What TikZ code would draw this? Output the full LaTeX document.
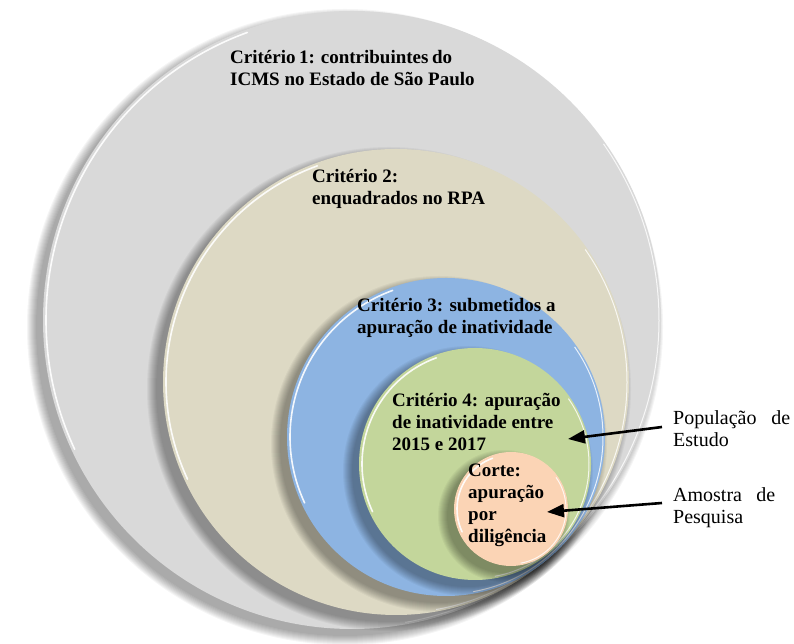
\documentclass[tikz,border=0pt]{standalone}
\usepackage{fontspec}
\setmainfont{Liberation Serif}
\usetikzlibrary{arrows.meta,calc}

\definecolor{cinza}{HTML}{D9D9D9}
\definecolor{bege}{HTML}{DDD9C4}
\definecolor{azul}{HTML}{8DB4E2}
\definecolor{verde}{HTML}{C3D69B}
\definecolor{salmao}{HTML}{FBD4B5}

\begin{document}
\begin{tikzpicture}[x=1pt,y=1pt,
    disco/.style={circle,inner sep=0pt,outer sep=0pt},
    criterio/.style={anchor=base west,inner sep=0pt,font=\bfseries\fontsize{19}{22}\selectfont},
    legenda/.style={anchor=base west,inner sep=0pt,font=\fontsize{20}{22}\selectfont},
    seta/.style={line width=2.6pt,-{Triangle[length=17pt,width=13pt]}}]
        \useasboundingbox (0,0) rectangle (794,644);
        % circulos concentricos, do maior para o menor
        \foreach \nome/\cx/\cy/\r/\cor in {c1/352/324/309/cinza,c2/396/262/233/bege,
            c3/446/207/159/azul,c4/475/180/116/verde,c5/511/135/57/salmao}{
            \foreach \s in {0,...,9}
                \fill[black,opacity=0.04] (\cx-7,\cy-7) circle ({\r+\s});
            \node[disco,fill=\cor,minimum size=2*\r pt] (\nome) at (\cx,\cy) {};
            \draw[white,line width=1.6pt,line cap=round,opacity=.9]
                ([shift={(110:\r-3)}]\nome.center) arc (110:205:\r-3);
            \draw[white,line width=1pt,opacity=.8]
                ([shift={(-80:\r-2)}]\nome.center) arc (-80:35:\r-2);
        }
        \node[criterio] (t1) at (230,580) {\begin{tabular}[t]{@{}l@{}}\makebox[222pt][s]{Critério 1: contribuintes do}\\ICMS no Estado de São Paulo\end{tabular}};
        \node[criterio] (t2) at (312,461) {\begin{tabular}[t]{@{}l@{}}Critério 2:\\enquadrados no RPA\end{tabular}};
        \node[criterio] (t3) at (357,332) {\begin{tabular}[t]{@{}l@{}}Critério 3: submetidos a\\apuração de inatividade\end{tabular}};
        \node[criterio] (t4) at (392,237) {\begin{tabular}[t]{@{}l@{}}Critério 4: apuração\\de inatividade entre\\2015 e 2017\end{tabular}};
        \node[criterio] (t5) at (468,167) {\begin{tabular}[t]{@{}l@{}}Corte:\\apuração\\por\\diligência\end{tabular}};
        % legendas com setas
        \node[legenda] (pop) at (673,219) {\begin{tabular}[t]{@{}l@{}}\makebox[117pt][s]{População de}\\Estudo\end{tabular}};
        \node[legenda] (amo) at (673,142) {\begin{tabular}[t]{@{}l@{}}\makebox[102pt][s]{Amostra de}\\Pesquisa\end{tabular}};
        \coordinate (alvopop) at ($(c4)+(93,25)$);
        \coordinate (alvoamo) at ($(c5)+(36,-3)$);
        \draw[seta] ([shift={(-11,-2)}]pop.base west) -- (alvopop);
        \draw[seta] ([shift={(-11,-1)}]amo.base west) -- (alvoamo);
\end{tikzpicture}
\end{document}
